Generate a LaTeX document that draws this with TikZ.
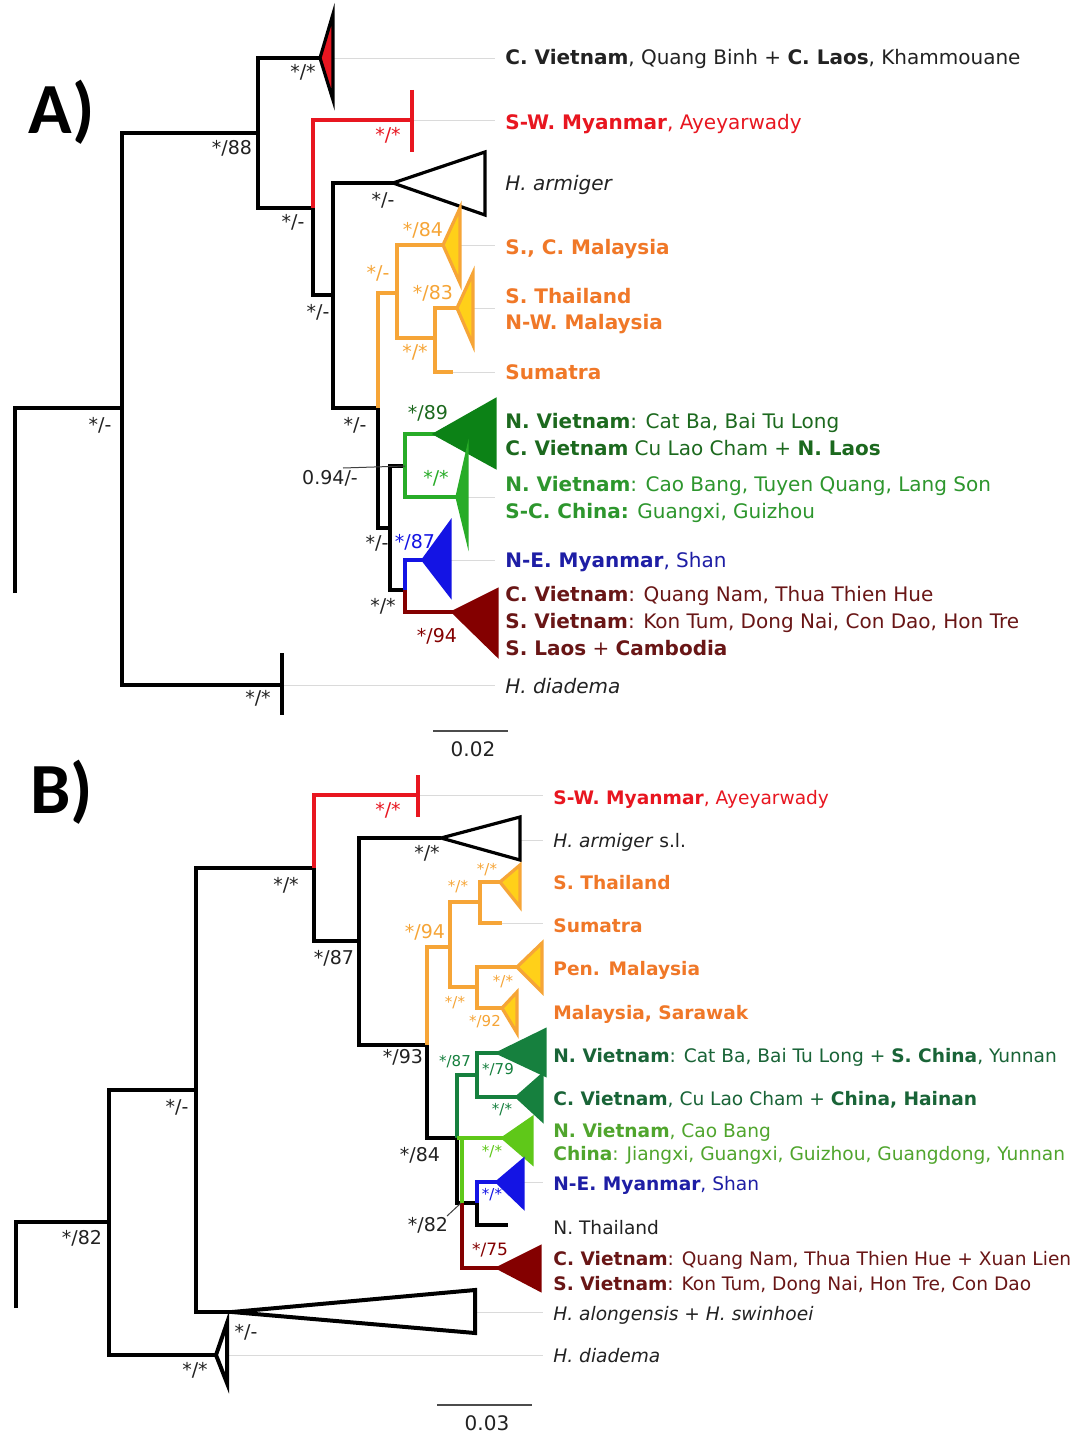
\documentclass[tikz,border=0pt]{standalone}
\usepackage{fontspec}
\setmainfont{DejaVu Sans}
\newfontfamily\panelfont{Carlito}
\usepackage{tikz}
\usepackage{xcolor}
\definecolor{cred}{RGB}{232,22,32}
\definecolor{corange}{RGB}{246,165,55}
\definecolor{corangetxt}{RGB}{240,120,40}
\definecolor{cyellow}{RGB}{255,208,25}
\definecolor{cdkgreen}{RGB}{12,130,22}
\definecolor{cgreen}{RGB}{40,172,40}
\definecolor{cgreentxt1}{RGB}{28,105,30}
\definecolor{cgreentxt2}{RGB}{45,150,45}
\definecolor{cblue}{RGB}{20,20,228}
\definecolor{cbluetxt}{RGB}{30,30,165}
\definecolor{cdkred}{RGB}{132,0,0}
\definecolor{cdkredtxt}{RGB}{105,22,22}
\definecolor{cteal}{RGB}{22,128,62}
\definecolor{ctealtxt}{RGB}{25,100,55}
\definecolor{clime}{RGB}{95,200,25}
\definecolor{climetxt}{RGB}{80,165,45}
\definecolor{cguide}{RGB}{218,218,218}
\definecolor{ctext}{RGB}{34,34,34}

\begin{document}
\begin{tikzpicture}
[
x=0.5pt, y=-0.5pt,
br/.style={line width=2pt, draw=black},
brc/.style={line width=1.6pt},
clade/.style={line width=1.6pt},
tipbar/.style={line width=2pt},
guide/.style={draw=cguide, line width=0.4pt},
lab/.style={anchor=base west, inner sep=0pt, text=ctext, font=\fontsize{10}{12}\selectfont},
lab-b/.style={lab, font=\fontsize{9.3}{11}\selectfont},
bs/.style={inner sep=0pt, text=ctext, font=\fontsize{9.5}{11}\selectfont},
bs-s/.style={inner sep=0pt, font=\fontsize{7.5}{9}\selectfont},
lead/.style={draw=black!75, line width=0.5pt},
panel/.style={font=\panelfont\bfseries\fontsize{36}{40}\selectfont}
]
\path[use as bounding box, fill=white] (0,0) rectangle (1090,1434);

% ---------- A ----------
\node (a-panel) [panel] at (62,112) {A)};
\coordinate (a-root) at (15,593);
\coordinate (a-n1)   at (122,408);
\coordinate (a-n2)   at (258,133);
\coordinate (a-n3)   at (313,208);
\coordinate (a-n4)   at (333,295);
\coordinate (a-n5)   at (378,408);
\coordinate (a-n6)   at (390,528);
\coordinate (a-n7)   at (405,466);
\coordinate (a-n8)   at (405,590);
\coordinate (a-or)   at (397,293);
\coordinate (a-or2)  at (435,338);
\coordinate (a-cvn)  at (320,58);
\coordinate (a-swm)  at (412,120);
\coordinate (a-arm)  at (393,183);
\coordinate (a-scm)  at (443,245);
\coordinate (a-sth)  at (457,308);
\coordinate (a-sum)  at (453,372);
\coordinate (a-g1)   at (435,434);
\coordinate (a-g2)   at (457,497);
\coordinate (a-bl)   at (423,560);
\coordinate (a-dr)   at (453,612);
\coordinate (a-dia)  at (282,685);

\draw[guide] (a-cvn) -- (495,58);
\draw[guide] (a-swm) -- (495,120);
\draw[guide] (a-scm) -- (495,245);
\draw[guide] (a-sth) -- (495,308);
\draw[guide] (a-sum) -- (495,372);
\draw[guide] (a-g2)  -- (495,497);
\draw[guide] (a-bl)  -- (495,560);
\draw[guide] (a-dia) -- (495,685);

\draw[br] (a-root) |- (a-n1);
\draw[br] (a-n1) |- (a-n2);
\draw[br] (a-n1) |- (a-dia);
\draw[br] (a-n2) |- (a-cvn);
\draw[br] (a-n2) |- (a-n3);
\draw[brc, cred] (a-n3) |- (a-swm);
\draw[br] (a-n3) |- (a-n4);
\draw[br] (a-n4) |- (a-arm);
\draw[br] (a-n4) |- (a-n5);
\draw[brc, corange] (a-n5) |- (a-or);
\draw[br] (a-n5) |- (a-n6);
\draw[brc, corange] (a-or) |- (a-scm);
\draw[brc, corange] (a-or) |- (a-or2);
\draw[brc, corange] (a-or2) |- (a-sth);
\draw[brc, corange] (a-or2) |- (a-sum);
\draw[br] (a-n6) |- (a-n7);
\draw[br] (a-n6) |- (a-n8);
\draw[brc, cgreen] (a-n7) |- (a-g1);
\draw[brc, cgreen] (a-n7) |- (a-g2);
\draw[brc, cblue] (a-n8) |- (a-bl);
\draw[brc, cdkred] (a-n8) |- (a-dr);

\draw[clade, draw=black, fill=cred]      (a-cvn) -- ++(13,-44) -- ++(0,86) -- cycle;
\draw[clade, draw=black, fill=white]     (a-arm) -- ++(92,-31) -- ++(0,63) -- cycle;
\draw[clade, draw=corange, fill=cyellow] (a-scm) -- ++(17,-37) -- ++(0,75) -- cycle;
\draw[clade, draw=corange, fill=cyellow] (a-sth) -- ++(16,-35) -- ++(0,72) -- cycle;
\draw[clade, draw=cdkgreen, fill=cdkgreen] (a-g1) -- ++(60,-34) -- ++(0,67) -- cycle;
\draw[clade, draw=cgreen, fill=cgreen]   (a-g2) -- ++(10,-44) -- ++(0,85) -- cycle;
\draw[clade, draw=cblue, fill=cblue]     (a-bl) -- ++(27,-37) -- ++(0,72) -- cycle;
\draw[clade, draw=cdkred, fill=cdkred]   (a-dr) -- ++(44,-22) -- ++(0,65) -- cycle;
\draw[tipbar, cred] (a-swm) ++(0,-30) -- ++(0,62);
\draw[tipbar, black, line width=2.4pt] (a-dia) ++(0,-32) -- ++(0,62);

\node (a-s-n1)  [bs] at (100,425) {*/-};
\node (a-s-n2)  [bs] at (232,148) {*/88};
\node (a-s-cvn) [bs] at (303,72)  {*/*};
\node (a-s-n3)  [bs] at (293,222) {*/-};
\node (a-s-swm) [bs, text=cred] at (388,135) {*/*};
\node (a-s-arm) [bs] at (383,200) {*/-};
\node (a-s-n4)  [bs] at (318,312) {*/-};
\node (a-s-n5)  [bs] at (355,425) {*/-};
\node (a-s-or)  [bs, text=corange] at (378,273) {*/-};
\node (a-s-scm) [bs, text=corange] at (423,230) {*/84};
\node (a-s-sth) [bs, text=corange] at (433,293) {*/83};
\node (a-s-or2) [bs, text=corange] at (415,352) {*/*};
\node (a-s-n6)  [bs] at (377,543) {*/-};
\node (a-s-094) [bs] at (330,478) {0.94/-};
\coordinate (a-l094) at (343,468);
\draw[lead] (a-l094) -- (a-n7);
\node (a-s-g1)  [bs, text=cgreentxt1] at (428,413) {*/89};
\node (a-s-g2)  [bs, text=cgreen] at (436,478) {*/*};
\node (a-s-bl)  [bs, text=cblue] at (415,542) {*/87};
\node (a-s-n8)  [bs] at (383,606) {*/*};
\node (a-s-dr)  [bs, text=cdkred] at (437,636) {*/94};
\node (a-s-dia) [bs] at (258,698) {*/*};

\node (a-t-cvn) [lab] at (505,65) {\textbf{C. Vietnam}, Quang Binh + \textbf{C. Laos}, Khammouane};
\node (a-t-swm) [lab, text=cred] at (505,129) {\textbf{S-W. Myanmar}, Ayeyarwady};
\node (a-t-arm) [lab] at (505,191) {\textit{H. armiger}};
\node (a-t-scm) [lab, text=corangetxt] at (505,254) {\textbf{S., C. Malaysia}};
\node (a-t-sth) [lab, text=corangetxt] at (505,303) {\textbf{S. Thailand}};
\node (a-t-nwm) [lab, text=corangetxt] at (505,329) {\textbf{N-W. Malaysia}};
\node (a-t-sum) [lab, text=corangetxt] at (505,379) {\textbf{Sumatra}};
\node (a-t-nv1) [lab, text=cgreentxt1] at (505,428) {\textbf{N. Vietnam}: Cat Ba, Bai Tu Long};
\node (a-t-cv1) [lab, text=cgreentxt1] at (505,455) {\textbf{C. Vietnam} Cu Lao Cham + \textbf{N. Laos}};
\node (a-t-nv2) [lab, text=cgreentxt2] at (505,491) {\textbf{N. Vietnam}: Cao Bang, Tuyen Quang, Lang Son};
\node (a-t-scc) [lab, text=cgreentxt2] at (505,518) {\textbf{S-C. China:} Guangxi, Guizhou};
\node (a-t-nem) [lab, text=cbluetxt] at (505,567) {\textbf{N-E. Myanmar}, Shan};
\node (a-t-cv2) [lab, text=cdkredtxt] at (505,601) {\textbf{C. Vietnam}: Quang Nam, Thua Thien Hue};
\node (a-t-sv)  [lab, text=cdkredtxt] at (505,628) {\textbf{S. Vietnam}: Kon Tum, Dong Nai, Con Dao, Hon Tre};
\node (a-t-sl)  [lab, text=cdkredtxt] at (505,655) {\textbf{S. Laos} + \textbf{Cambodia}};
\node (a-t-dia) [lab] at (505,693) {\textit{H. diadema}};

\coordinate (a-sc-l) at (433,731);
\coordinate (a-sc-r) at (508,731);
\draw[line width=0.8pt, draw=black!70] (a-sc-l) -- (a-sc-r);
\node (a-sc) [bs, font=\fontsize{10}{12}\selectfont] at (473,749) {0.02};

% ---------- B ----------
\node (b-panel) [panel] at (62,792) {B)};
\coordinate (b-root) at (16,1308);
\coordinate (b-m1)   at (109,1222);
\coordinate (b-m2)   at (196,1090);
\coordinate (b-m3)   at (314,868);
\coordinate (b-m4)   at (359,941);
\coordinate (b-m5)   at (427,1045);
\coordinate (b-m6)   at (457,1138);
\coordinate (b-m7)   at (457,1203);
\coordinate (b-m8)   at (477,1203);
\coordinate (b-or)   at (450,947);
\coordinate (b-or1)  at (480,902);
\coordinate (b-or2)  at (477,987);
\coordinate (b-dg)   at (477,1075);
\coordinate (b-swm)  at (418,795);
\coordinate (b-arm)  at (441,838);
\coordinate (b-sth)  at (500,882);
\coordinate (b-sum)  at (502,923);
\coordinate (b-pen)  at (517,967);
\coordinate (b-sar)  at (502,1008);
\coordinate (b-dg1)  at (498,1053);
\coordinate (b-dg2)  at (517,1097);
\coordinate (b-lg)   at (503,1138);
\coordinate (b-bl)   at (497,1182);
\coordinate (b-nth)  at (508,1225);
\coordinate (b-dr)   at (498,1268);
\coordinate (b-alo)  at (232,1312);
\coordinate (b-dia)  at (216,1355);

\draw[guide] (b-swm) -- (543,795);
\draw[guide] (520,840) -- (543,840);
\draw[guide] (b-sum) -- (543,923);
\draw[guide] (b-bl)  -- (543,1182);
\draw[guide] (b-alo) -- (543,1312);
\draw[guide] (b-dia) -- (543,1355);

\draw[br] (b-root) |- (b-m1);
\draw[br] (b-m1) |- (b-m2);
\draw[br] (b-m1) |- (b-dia);
\draw[br] (b-m2) |- (b-m3);
\draw[br] (b-m2) |- (b-alo);
\draw[brc, cred] (b-m3) |- (b-swm);
\draw[br] (b-m3) |- (b-m4);
\draw[br] (b-m4) |- (b-arm);
\draw[br] (b-m4) |- (b-m5);
\draw[brc, corange] (b-m5) |- (b-or);
\draw[br] (b-m5) |- (b-m6);
\draw[brc, corange] (b-or) |- (b-or1);
\draw[brc, corange] (b-or) |- (b-or2);
\draw[brc, corange] (b-or1) |- (b-sth);
\draw[brc, corange] (b-or1) |- (b-sum);
\draw[brc, corange] (b-or2) |- (b-pen);
\draw[brc, corange] (b-or2) |- (b-sar);
\draw[br, line width=1.6pt] (b-m6) |- (b-m8);
\draw[brc, cteal] (b-m6) |- (b-dg);
\draw[brc, cteal] (b-dg) |- (b-dg1);
\draw[brc, cteal] (b-dg) |- (b-dg2);
\draw[brc, clime] ([xshift=2.5pt]b-m6) -- ([xshift=2.5pt]b-m7);
\draw[brc, clime] (b-m6) -- (b-lg);
\draw[brc, cblue] (b-m8) |- (b-bl);
\draw[br, line width=1.6pt] (b-m8) |- (b-nth);
\draw[brc, cdkred] ([xshift=2.5pt]b-m7) |- (b-dr);

\draw[clade, draw=black, fill=white]      (b-arm) -- ++(79,-21) -- ++(0,43) -- cycle;
\draw[clade, draw=corange, fill=cyellow]  (b-sth) -- ++(20,-17) -- ++(0,42) -- cycle;
\draw[clade, draw=corange, fill=cyellow]  (b-pen) -- ++(25,-24) -- ++(0,49) -- cycle;
\draw[clade, draw=corange, fill=cyellow]  (b-sar) -- ++(15,-16) -- ++(0,41) -- cycle;
\draw[clade, draw=cteal, fill=cteal]      (b-dg1) -- ++(47,-23) -- ++(0,45) -- cycle;
\draw[clade, draw=cteal, fill=cteal]      (b-dg2) -- ++(25,-22) -- ++(0,45) -- cycle;
\draw[clade, draw=clime, fill=clime]      (b-lg)  -- ++(29,-20) -- ++(0,45) -- cycle;
\draw[clade, draw=cblue, fill=cblue]      (b-bl)  -- ++(26,-22) -- ++(0,47) -- cycle;
\draw[clade, draw=cdkred, fill=cdkred]    (b-dr)  -- ++(42,-21) -- ++(0,43) -- cycle;
\draw[clade, draw=black, fill=white, line width=2pt] (b-alo) -- ++(243,-22) -- ++(0,43) -- cycle;
\draw[clade, draw=black, fill=white, line width=2pt] (b-dia) -- ++(11,-32) -- ++(0,60) -- cycle;
\draw[tipbar, cred] (b-swm) ++(0,-20) -- ++(0,42);

\node (b-s-m1)  [bs] at (82,1238)  {*/82};
\node (b-s-m2)  [bs] at (177,1107) {*/-};
\node (b-s-m3)  [bs] at (286,885)  {*/*};
\node (b-s-swm) [bs, text=cred] at (388,810) {*/*};
\node (b-s-m4)  [bs] at (334,958)  {*/87};
\node (b-s-arm) [bs] at (427,853)  {*/*};
\node (b-s-m5)  [bs] at (403,1057) {*/93};
\node (b-s-or)  [bs, text=corange] at (425,932) {*/94};
\node (b-s-or1) [bs-s, text=corange] at (458,887) {*/*};
\node (b-s-sth) [bs-s, text=corange] at (487,870) {*/*};
\node (b-s-or2) [bs-s, text=corange] at (455,1003) {*/*};
\node (b-s-pen) [bs-s, text=corange] at (503,982) {*/*};
\node (b-s-sar) [bs-s, text=corange] at (485,1022) {*/92};
\node (b-s-dg)  [bs-s, text=cteal] at (455,1062) {*/87};
\node (b-s-dg1) [bs-s, text=cteal] at (498,1070) {*/79};
\node (b-s-dg2) [bs-s, text=cteal] at (502,1110) {*/*};
\node (b-s-lg)  [bs-s, text=clime] at (492,1152) {*/*};
\node (b-s-m6)  [bs] at (420,1155) {*/84};
\node (b-s-bl)  [bs-s, text=cblue] at (492,1195) {*/*};
\node (b-s-m7)  [bs] at (428,1225) {*/82};
\coordinate (b-l82) at (447,1216);
\draw[lead] (b-l82) -- ([xshift=2pt]b-m7);
\node (b-s-dr)  [bs, text=cdkred, font=\fontsize{8.5}{10}\selectfont] at (490,1250) {*/75};
\node (b-s-alo) [bs] at (246,1332) {*/-};
\node (b-s-dia) [bs] at (195,1370) {*/*};

\node (b-t-swm) [lab-b, text=cred] at (553,804) {\textbf{S-W. Myanmar}, Ayeyarwady};
\node (b-t-arm) [lab-b] at (553,847) {\textit{H. armiger} s.l.};
\node (b-t-sth) [lab-b, text=corangetxt] at (553,889) {\textbf{S. Thailand}};
\node (b-t-sum) [lab-b, text=corangetxt] at (553,932) {\textbf{Sumatra}};
\node (b-t-pen) [lab-b, text=corangetxt] at (553,975) {\textbf{Pen. Malaysia}};
\node (b-t-sar) [lab-b, text=corangetxt] at (553,1019) {\textbf{Malaysia, Sarawak}};
\node (b-t-nv1) [lab-b, text=ctealtxt] at (553,1062) {\textbf{N. Vietnam}: Cat Ba, Bai Tu Long + \textbf{S. China}, Yunnan};
\node (b-t-cv1) [lab-b, text=ctealtxt] at (553,1105) {\textbf{C. Vietnam}, Cu Lao Cham + \textbf{China, Hainan}};
\node (b-t-nv2) [lab-b, text=climetxt] at (553,1137) {\textbf{N. Vietnam}, Cao Bang};
\node (b-t-chn) [lab-b, text=climetxt] at (553,1160) {\textbf{China}: Jiangxi, Guangxi, Guizhou, Guangdong, Yunnan};
\node (b-t-nem) [lab-b, text=cbluetxt] at (553,1190) {\textbf{N-E. Myanmar}, Shan};
\node (b-t-nth) [lab-b] at (553,1234) {N. Thailand};
\node (b-t-cv2) [lab-b, text=cdkredtxt] at (553,1265) {\textbf{C. Vietnam}: Quang Nam, Thua Thien Hue + Xuan Lien};
\node (b-t-sv)  [lab-b, text=cdkredtxt] at (553,1290) {\textbf{S. Vietnam}: Kon Tum, Dong Nai, Hon Tre, Con Dao};
\node (b-t-alo) [lab-b] at (553,1320) {\textit{H. alongensis + H. swinhoei}};
\node (b-t-dia) [lab-b] at (553,1362) {\textit{H. diadema}};

\coordinate (b-sc-l) at (437,1405);
\coordinate (b-sc-r) at (532,1405);
\draw[line width=0.8pt, draw=black!70] (b-sc-l) -- (b-sc-r);
\node (b-sc) [bs, font=\fontsize{10}{12}\selectfont] at (487,1423) {0.03};
\end{tikzpicture}
\end{document}
